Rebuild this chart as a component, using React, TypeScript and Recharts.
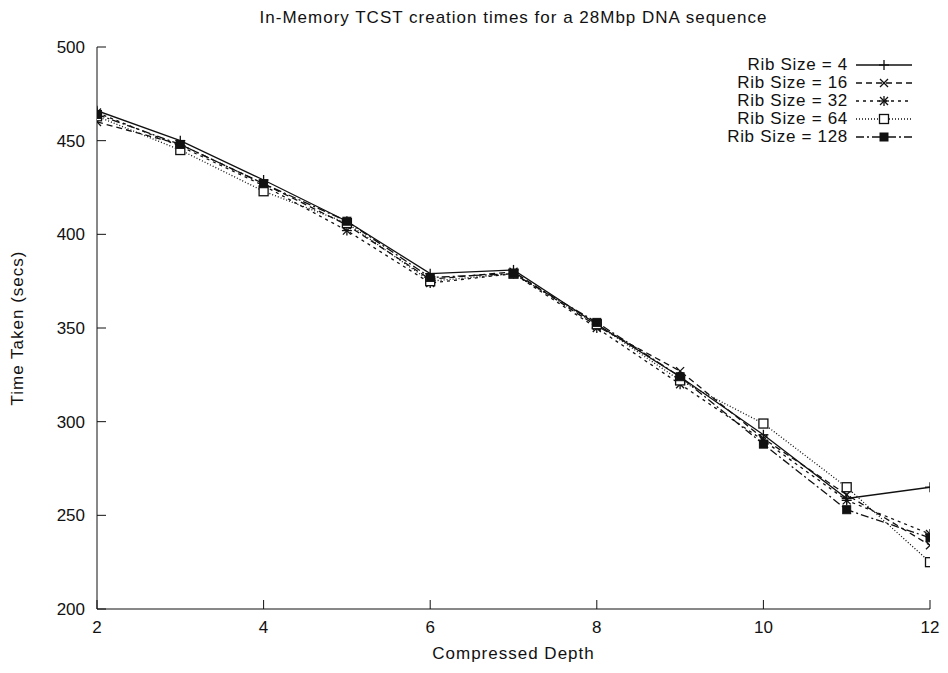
import React from 'react';
import { LineChart, Line, XAxis, YAxis, Legend } from 'recharts';

// compressed depth values along the x axis
const depths = [2, 3, 4, 5, 6, 7, 8, 9, 10, 11, 12];

// time taken (secs)
const rib4 = [466, 450, 429, 407, 379, 381, 352, 324, 293, 259, 265];
const rib16 = [460, 448, 427, 405, 376, 380, 351, 327, 291, 261, 234];
const rib32 = [465, 447, 426, 402, 374, 379, 350, 320, 290, 258, 240];
const rib64 = [463, 445, 423, 406, 375, 379, 352, 322, 299, 265, 225];
const rib128 = [464, 448, 427, 407, 377, 379, 353, 324, 288, 253, 238];

const xTicks = [2, 4, 6, 8, 10, 12];
const yTicks = [200, 250, 300, 350, 400, 450, 500];

const series = [
    { key: 'rib4', name: 'Rib Size = 4', values: rib4, dash: undefined, marker: 'plus' },
    { key: 'rib16', name: 'Rib Size = 16', values: rib16, dash: '6 4', marker: 'cross' },
    { key: 'rib32', name: 'Rib Size = 32', values: rib32, dash: '3 4', marker: 'star' },
    { key: 'rib64', name: 'Rib Size = 64', values: rib64, dash: '1 2', marker: 'square' },
    { key: 'rib128', name: 'Rib Size = 128', values: rib128, dash: '8 3 2 3', marker: 'filled' },
];

const rows = depths.map((x, i) => {
    const row: any = { x };
    series.forEach((s) => { row[s.key] = s.values[i]; });
    return row;
});

const FONT = '"Liberation Sans", Arial, sans-serif';
const INK = '#111';

const Marker = ({ shape, cx, cy }: { shape: string; cx: number; cy: number }) => {
    if (cx == null || cy == null) return null;
    if (shape === 'plus') {
        return (
            <g stroke={INK} strokeWidth={1.3}>
                <line x1={cx - 5} y1={cy} x2={cx + 5} y2={cy} />
                <line x1={cx} y1={cy - 5} x2={cx} y2={cy + 5} />
            </g>
        );
    }
    if (shape === 'cross') {
        return (
            <g stroke={INK} strokeWidth={1.3}>
                <line x1={cx - 4} y1={cy - 4} x2={cx + 4} y2={cy + 4} />
                <line x1={cx - 4} y1={cy + 4} x2={cx + 4} y2={cy - 4} />
            </g>
        );
    }
    if (shape === 'star') {
        return (
            <g stroke={INK} strokeWidth={1.3}>
                <line x1={cx - 5} y1={cy} x2={cx + 5} y2={cy} />
                <line x1={cx} y1={cy - 5} x2={cx} y2={cy + 5} />
                <line x1={cx - 4} y1={cy - 4} x2={cx + 4} y2={cy + 4} />
                <line x1={cx - 4} y1={cy + 4} x2={cx + 4} y2={cy - 4} />
            </g>
        );
    }
    if (shape === 'square') {
        return <rect x={cx - 4.5} y={cy - 4.5} width={9} height={9} fill="#fff" stroke={INK} strokeWidth={1.3} />;
    }
    return <rect x={cx - 4} y={cy - 4} width={8} height={8} fill={INK} stroke={INK} />;
};

const dotFor = (shape: string) => (props: any) => (
    <Marker key={`${shape}-${props.index}`} shape={shape} cx={props.cx} cy={props.cy} />
);

// gnuplot style ticks: pointing inward, labels outside
const LeftTick = (props: any) => (
    <g>
        <line x1={props.x} y1={props.y} x2={props.x + 9} y2={props.y} stroke={INK} />
        <text x={props.x - 12} y={props.y} dy="0.35em" textAnchor="end" fontSize={17} fontFamily={FONT} fill={INK}>
            {props.payload.value}
        </text>
    </g>
);
const RightTick = (props: any) => (
    <line x1={props.x} y1={props.y} x2={props.x - 9} y2={props.y} stroke={INK} />
);
const BottomTick = (props: any) => (
    <g>
        <line x1={props.x} y1={props.y} x2={props.x} y2={props.y - 9} stroke={INK} />
        <text x={props.x} y={props.y + 18} dy="0.35em" textAnchor="middle" fontSize={17} fontFamily={FONT} fill={INK}>
            {props.payload.value}
        </text>
    </g>
);
const TopTick = (props: any) => (
    <line x1={props.x} y1={props.y} x2={props.x} y2={props.y + 9} stroke={INK} />
);

const LegendBox = () => (
    <div style={{ fontFamily: FONT, fontSize: 17, color: INK, letterSpacing: 0.7 }}>
        {series.map((s) => (
            <div key={s.key} style={{ display: 'flex', alignItems: 'center', justifyContent: 'flex-end', height: 18 }}>
                <span style={{ lineHeight: '18px' }}>{s.name}</span>
                <svg width={60} height={18} style={{ marginLeft: 6 }}>
                    <line x1={2} y1={9} x2={58} y2={9} stroke={INK} strokeWidth={1.3} strokeDasharray={s.dash} />
                    <Marker shape={s.marker} cx={30} cy={9} />
                </svg>
            </div>
        ))}
    </div>
);

const App: React.FC<any> = () => {
    return (
        <div style={{ position: 'absolute', left: 0, top: 0, width: 948, height: 673, background: '#fff' }}>
            <div style={{
                position: 'absolute', left: 97, width: 833, top: 8, textAlign: 'center',
                fontFamily: FONT, fontSize: 17, letterSpacing: 1, color: INK,
            }}>
                In-Memory TCST creation times for a 28Mbp DNA sequence
            </div>
            <div style={{
                position: 'absolute', left: 97, width: 833, top: 644, textAlign: 'center',
                fontFamily: FONT, fontSize: 17, letterSpacing: 1, color: INK,
            }}>
                Compressed Depth
            </div>
            <div style={{
                position: 'absolute', left: 18, top: 328, transform: 'translate(-50%, -50%) rotate(-90deg)',
                whiteSpace: 'nowrap', fontFamily: FONT, fontSize: 17, letterSpacing: 1, color: INK,
            }}>
                Time Taken (secs)
            </div>
            <LineChart width={948} height={673} data={rows} margin={{ top: 47, right: 18, bottom: 30, left: 37 }}>
                <XAxis
                    dataKey="x" type="number" domain={[2, 12]} ticks={xTicks} allowDataOverflow
                    height={34} tickSize={0} tickMargin={0} tickLine={false}
                    axisLine={{ stroke: INK }} tick={<BottomTick />}
                />
                <XAxis
                    xAxisId="top" orientation="top" dataKey="x" type="number" domain={[2, 12]} ticks={xTicks}
                    height={0} tickSize={0} tickMargin={0} tickLine={false}
                    axisLine={{ stroke: INK }} tick={<TopTick />}
                />
                <YAxis
                    type="number" domain={[200, 500]} ticks={yTicks} allowDataOverflow
                    width={60} tickSize={0} tickMargin={0} tickLine={false}
                    axisLine={{ stroke: INK }} tick={<LeftTick />}
                />
                <YAxis
                    yAxisId="right" orientation="right" type="number" domain={[200, 500]} ticks={yTicks}
                    width={0} tickSize={0} tickMargin={0} tickLine={false}
                    axisLine={{ stroke: INK }} tick={<RightTick />}
                />
                <Legend
                    layout="vertical" align="center" verticalAlign="middle"
                    wrapperStyle={{ position: 'absolute', top: 56, left: 690, width: 224, height: 90 }}
                    content={<LegendBox />}
                />
                {series.map((s) => (
                    <Line
                        key={s.key}
                        dataKey={s.key}
                        name={s.name}
                        type="linear"
                        stroke={INK}
                        strokeWidth={1.3}
                        strokeDasharray={s.dash}
                        dot={dotFor(s.marker)}
                        activeDot={false}
                        isAnimationActive={false}
                    />
                ))}
            </LineChart>
        </div>
    );
};

export default App;
